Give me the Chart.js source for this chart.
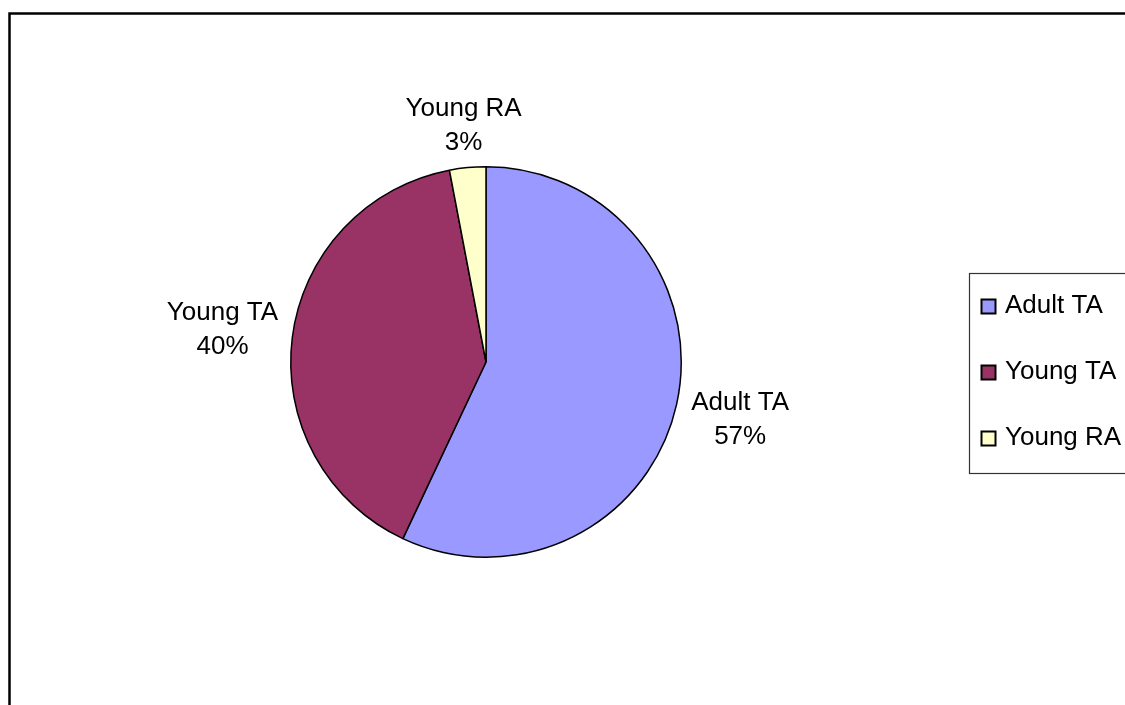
<!DOCTYPE html>
<html>
<head>
<meta charset="utf-8">
<script src="https://cdn.jsdelivr.net/npm/chart.js@4"></script>
<style>
  html, body { margin: 0; padding: 0; background: #fff; overflow: hidden; }
  canvas { display: block; }
</style>
</head>
<body>
<canvas id="share-pie" width="1125" height="705"></canvas>
<script>
// Data
const categories = ['Adult TA', 'Young TA', 'Young RA'];
const shares = [57, 40, 3];
const sliceColors = ['#9999FF', '#993366', '#FFFFCC'];

const FONT = '26px "Liberation Sans", Arial, sans-serif';

// outer frame of the chart area (runs past the window on right and bottom)
const framePlugin = {
    id: 'frame',
    beforeDraw(chart) {
        const ctx = chart.ctx;
        ctx.save();
        ctx.fillStyle = '#fff';
        ctx.fillRect(0, 0, chart.width, chart.height);
        ctx.strokeStyle = '#000';
        ctx.lineWidth = 2.5;
        ctx.strokeRect(9.5, 13.5, 2000, 2000);
        ctx.restore();
    }
};

// category name + percent outside each slice
const sliceLabels = {
    id: 'sliceLabels',
    afterDatasetsDraw(chart) {
        const ctx = chart.ctx;
        const meta = chart.getDatasetMeta(0);
        const values = chart.data.datasets[0].data;
        const total = values.reduce((a, b) => a + b, 0);
        ctx.save();
        ctx.font = FONT;
        ctx.fillStyle = '#000';
        ctx.textAlign = 'center';
        ctx.textBaseline = 'alphabetic';
        meta.data.forEach((arc, i) => {
            const p = arc.getProps(['x', 'y', 'startAngle', 'endAngle', 'outerRadius'], true);
            const mid = (p.startAngle + p.endAngle) / 2;
            const c = Math.cos(mid), s = Math.sin(mid);
            const line1 = chart.data.labels[i];
            const line2 = Math.round(values[i] / total * 100) + '%';
            const halfW = Math.max(ctx.measureText(line1).width, ctx.measureText(line2).width) / 2;
            const halfH = 25;
            const dist = p.outerRadius + 12 + Math.abs(c) * halfW + Math.abs(s) * halfH;
            const cx = p.x + c * dist;
            const cy = p.y + s * dist;
            ctx.fillText(line1, cx, cy - 9);
            ctx.fillText(line2, cx, cy + 25);
        });
        ctx.restore();
    }
};

// boxed legend on the right
const boxLegend = {
    id: 'boxLegend',
    afterDraw(chart) {
        const ctx = chart.ctx;
        const ds = chart.data.datasets[0];
        ctx.save();
        ctx.strokeStyle = '#333';
        ctx.lineWidth = 1.2;
        ctx.strokeRect(969.5, 273.5, 400, 200);
        ctx.font = FONT;
        ctx.textAlign = 'left';
        ctx.textBaseline = 'alphabetic';
        chart.data.labels.forEach((lab, i) => {
            const rowY = 307 + i * 66;
            ctx.fillStyle = ds.backgroundColor[i];
            ctx.fillRect(981.5, rowY - 7.5, 14, 14);
            ctx.strokeStyle = '#000';
            ctx.lineWidth = 2;
            ctx.strokeRect(981.5, rowY - 7.5, 14, 14);
            ctx.fillStyle = '#000';
            ctx.fillText(lab, 1005, rowY + 6);
        });
        ctx.restore();
    }
};

const ctx = document.getElementById('share-pie').getContext('2d');
const pieChart = new Chart(ctx, {
    type: 'pie',
    data: {
        labels: categories,
        datasets: [{
            data: shares,
            backgroundColor: sliceColors,
            borderColor: '#000',
            borderWidth: 1.5
        }]
    },
    options: {
        responsive: false,
        animation: false,
        layout: {
            padding: { left: 289, right: 442, top: 166, bottom: 147 }
        },
        plugins: {
            legend: { display: false },
            tooltip: { enabled: false }
        }
    },
    plugins: [framePlugin, sliceLabels, boxLegend]
});
</script>
</body>
</html>
